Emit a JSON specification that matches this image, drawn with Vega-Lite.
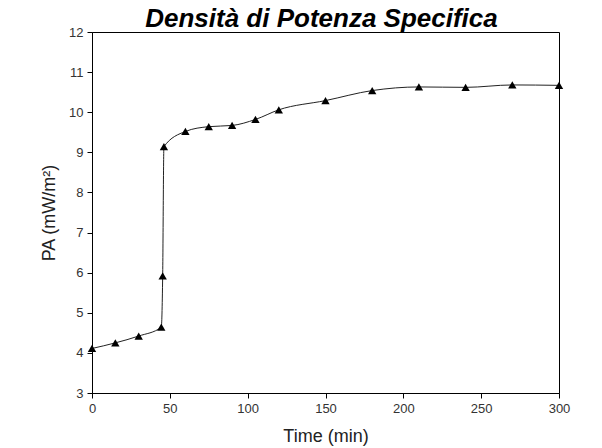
{
  "$schema": "https://vega.github.io/schema/vega-lite/v6.json",
  "autosize": "none",
  "width": 467,
  "height": 361,
  "padding": {"left": 92, "top": 32, "right": 43, "bottom": 55},
  "background": "white",
  "title": {
    "text": "Densità di Potenza Specifica",
    "font": "Liberation Sans",
    "fontSize": 26,
    "fontStyle": "italic",
    "fontWeight": "bold",
    "color": "black",
    "anchor": "middle",
    "frame": "group",
    "offset": -6,
    "dx": -4
  },
  "data": {
    "values": [
      {"t": 0, "p": 4.11},
      {"t": 15, "p": 4.25},
      {"t": 30, "p": 4.42},
      {"t": 44.5, "p": 4.64},
      {"t": 45.4, "p": 5.92},
      {"t": 46.2, "p": 9.14},
      {"t": 60, "p": 9.52},
      {"t": 75, "p": 9.64},
      {"t": 90, "p": 9.67},
      {"t": 105, "p": 9.82},
      {"t": 120, "p": 10.06},
      {"t": 150, "p": 10.29},
      {"t": 180, "p": 10.54},
      {"t": 210, "p": 10.63},
      {"t": 240, "p": 10.62},
      {"t": 270, "p": 10.68},
      {"t": 300, "p": 10.67}
    ]
  },
  "config": {
    "view": {"stroke": "black", "strokeWidth": 1},
    "axis": {
      "grid": false,
      "domainColor": "black",
      "tickColor": "black",
      "tickSize": 5,
      "labelFont": "Liberation Sans",
      "labelFontSize": 13,
      "labelColor": "#333",
      "labelPadding": 4,
      "labelFlush": false,
      "titleFont": "Liberation Sans",
      "titleFontSize": 18,
      "titleFontWeight": "normal",
      "titleColor": "#222"
    }
  },
  "encoding": {
    "x": {
      "field": "t",
      "type": "quantitative",
      "scale": {"domain": [0, 300], "nice": false},
      "axis": {"values": [0, 50, 100, 150, 200, 250, 300], "title": "Time (min)", "titlePadding": 12}
    },
    "y": {
      "field": "p",
      "type": "quantitative",
      "scale": {"domain": [3, 12], "nice": false, "zero": false},
      "axis": {"values": [3, 4, 5, 6, 7, 8, 9, 10, 11, 12], "title": "PA (mW/m²)", "titlePadding": 10}
    }
  },
  "layer": [
    {"mark": {"type": "line", "interpolate": "monotone", "color": "#222", "strokeWidth": 1}},
    {"mark": {"type": "point", "shape": "triangle-up", "filled": true, "color": "black", "opacity": 1, "size": 70}}
  ]
}
